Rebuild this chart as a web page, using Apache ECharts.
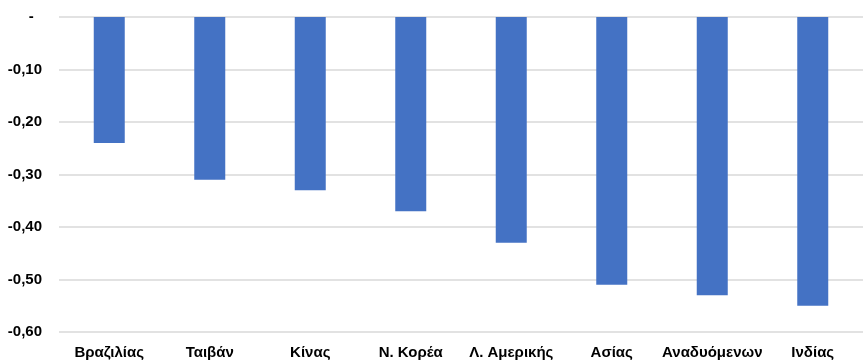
<!DOCTYPE html>
<html>
<head>
<meta charset="utf-8">
<script src="https://cdn.jsdelivr.net/npm/echarts@6/dist/echarts.min.js"></script>
<style>
  html, body { margin: 0; padding: 0; background: #fff; }
  #chart { width: 863px; height: 361px; }
</style>
</head>
<body>
<div id="chart"></div>
<script>
// Regions / countries shown along the category axis
const categories = ['Βραζιλίας', 'Ταιβάν', 'Κίνας', 'Ν. Κορέα', 'Λ. Αμερικής', 'Ασίας', 'Αναδυόμενων', 'Ινδίας'];
// Bar values
const values = [-0.24, -0.31, -0.33, -0.37, -0.43, -0.51, -0.53, -0.55];
// Value axis range and step
const yMin = -0.6;
const yMax = 0;
const yStep = 0.1;

function fmtTick(v) {
  if (Math.abs(v) < 1e-9) return '-  ';
  return v.toFixed(2).replace('.', ',');
}

const chart = echarts.init(document.getElementById('chart'), null, { renderer: 'canvas' });
chart.setOption({
  animation: false,
  grid: { left: 59, right: -2, top: 17, bottom: 29, containLabel: false },
  xAxis: {
    type: 'category',
    data: categories,
    position: 'bottom',
    axisLine: { show: false },
    axisTick: { show: false },
    axisLabel: {
      margin: 13,
      color: '#000',
      fontFamily: 'Liberation Sans, Arial, sans-serif',
      fontWeight: 'bold',
      fontSize: 15,
      interval: 0
    }
  },
  yAxis: {
    type: 'value',
    min: yMin,
    max: yMax,
    interval: yStep,
    axisLine: { show: false },
    axisTick: { show: false },
    splitLine: { lineStyle: { color: '#d9d9d9', width: 1.5 } },
    axisLabel: {
      margin: 17,
      color: '#000',
      fontFamily: 'Liberation Sans, Arial, sans-serif',
      fontWeight: 'bold',
      fontSize: 15,
      formatter: fmtTick
    }
  },
  series: [{
    type: 'bar',
    data: values,
    barWidth: 31,
    itemStyle: { color: '#4472C4' }
  }]
});
</script>
</body>
</html>
